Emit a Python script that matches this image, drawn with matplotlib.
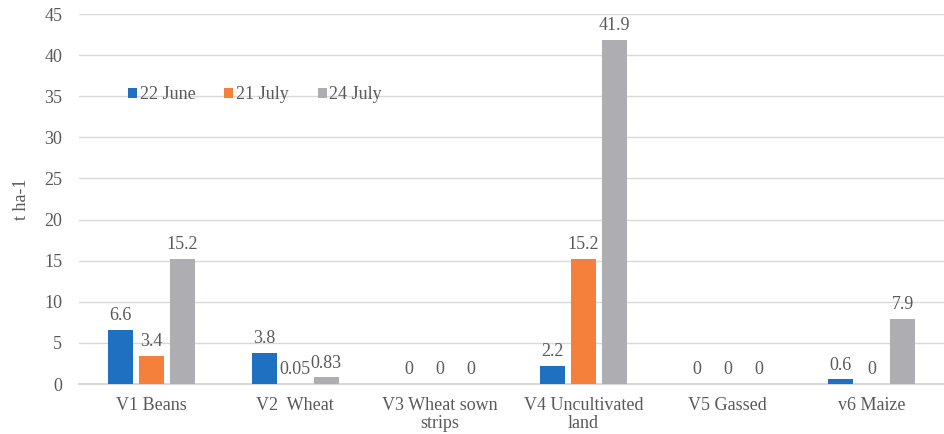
import matplotlib
matplotlib.use("Agg")
import matplotlib.pyplot as plt
import numpy as np

categories = ["V1 Beans", "V2  Wheat", "V3 Wheat sown\nstrips", "V4 Uncultivated\nland", "V5 Gassed", "v6 Maize"]
series_names = ["22 June", "21 July", "24 July"]
june = [6.6, 3.8, 0, 2.2, 0, 0.6]
july = [3.4, 0.05, 0, 15.2, 0, 0]
late_july = [15.2, 0.83, 0, 41.9, 0, 7.9]
labels_june = ["6.6", "3.8", "0", "2.2", "0", "0.6"]
labels_july = ["3.4", "0.05", "0", "15.2", "0", "0"]
labels_late = ["15.2", "0.83", "0", "41.9", "0", "7.9"]
colors = ["#1f70c1", "#f4803c", "#aeaeb2"]
yticks = [0, 5, 10, 15, 20, 25, 30, 35, 40, 45]

plt.rcParams['font.family'] = ['Liberation Serif', 'DejaVu Serif']
text_color = "#595959"
fs = 13

fig = plt.figure(figsize=(9.44, 4.34), dpi=100)
ax = fig.add_axes([0.0837, 0.1152, 0.9163, 0.8525])

x = np.arange(len(categories))
width = 0.174
step = 0.215
for i, (vals, labs, name, c) in enumerate(zip([june, july, late_july],
                                             [labels_june, labels_july, labels_late],
                                             series_names, colors)):
    pos = x + (i - 1) * step
    ax.bar(pos, vals, width=width, color=c, label=name, zorder=3)
    for p, v, l in zip(pos, vals, labs):
        ax.annotate(l, (p, v), xytext=(0, 4), textcoords="offset points",
                    ha="center", va="bottom", fontsize=fs, color=text_color)

ax.set_xlim(-0.5, len(categories) - 0.5)
ax.set_ylim(0, 45)
ax.set_yticks(yticks)
ax.set_yticklabels([str(t) for t in yticks])
ax.set_xticks(x)
ax.set_xticklabels(categories, linespacing=1.1)
ax.grid(axis="y", color="#d9d9d9", linewidth=1, zorder=0)
for s in ["top", "right", "left"]:
    ax.spines[s].set_visible(False)
ax.spines["bottom"].set_color("#d0d0d0")
ax.spines["bottom"].set_linewidth(1.2)
ax.tick_params(axis="both", length=0, labelsize=fs, colors=text_color)
ax.tick_params(axis="x", pad=9)
ax.tick_params(axis="y", pad=12)
ax.set_ylabel("t ha-1", fontsize=fs, color=text_color, labelpad=10)

leg = ax.legend(loc="center left", bbox_to_anchor=(0.0566, 0.782), ncol=3, frameon=False,
                fontsize=fs, handlelength=0.5, handleheight=0.5, handletextpad=0.15,
                columnspacing=1.6, labelcolor=text_color, borderpad=0, borderaxespad=0)

fig.savefig("out.png", dpi=100)
